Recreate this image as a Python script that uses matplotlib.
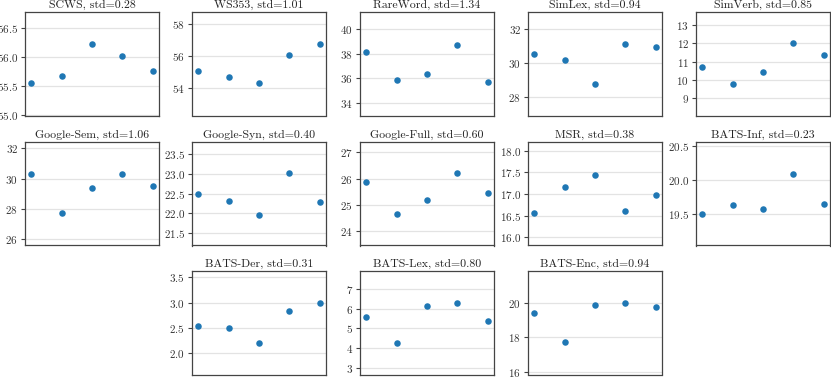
import numpy as np
import matplotlib
matplotlib.use("Agg")
import matplotlib.pyplot as plt
from matplotlib.ticker import MultipleLocator

plt.rcParams['font.family'] = ['cmr10', 'DejaVu Serif']
plt.rcParams['mathtext.fontset'] = 'cm'
plt.rcParams['axes.formatter.use_mathtext'] = True

names = ["SCWS", "WS353", "RareWord", "SimLex", "SimVerb",
         "Google-Sem", "Google-Syn", "Google-Full", "MSR", "BATS-Inf",
         "BATS-Der", "BATS-Lex", "BATS-Enc"]
stds = ["0.28", "1.01", "1.34", "0.94", "0.85",
        "1.06", "0.40", "0.60", "0.38", "0.23",
        "0.31", "0.80", "0.94"]
values = [
    [55.55, 55.67, 56.23, 56.03, 55.76],
    [55.10, 54.71, 54.31, 56.08, 56.75],
    [38.11, 35.89, 36.38, 38.67, 35.71],
    [30.53, 30.18, 28.78, 31.15, 30.94],
    [10.69, 9.78, 10.43, 12.00, 11.36],
    [30.29, 27.71, 29.37, 30.31, 29.51],
    [22.50, 22.31, 21.96, 23.03, 22.28],
    [25.89, 24.66, 25.21, 26.20, 25.45],
    [16.56, 17.15, 17.45, 16.60, 16.97],
    [19.50, 19.63, 19.57, 20.09, 19.65],
    [2.53, 2.49, 2.20, 2.84, 3.00],
    [5.57, 4.27, 6.12, 6.30, 5.37],
    [19.42, 17.71, 19.87, 19.98, 19.75],
]
tick_steps = [0.5, 2, 2, 2, 1, 2, 0.5, 1, 0.5, 0.5, 0.5, 1, 2]

W, H = 831, 378
fig = plt.figure(figsize=(W / 100, H / 100), dpi=100)

col_left = [25, 192, 360, 528, 696]
row_top = [12, 142, 271]
ax_w, ax_h = 134, 103.5
slots = [(0, c) for c in range(5)] + [(1, c) for c in range(5)] + [(2, c) for c in (1, 2, 3)]

for i, name in enumerate(names):
    r, c = slots[i]
    left = col_left[c] / W
    bottom = 1 - (row_top[r] + ax_h) / H
    ax = fig.add_axes([left, bottom, ax_w / W, ax_h / H])
    y = np.array(values[i])
    x = np.arange(len(y))
    ax.scatter(x, y, s=22, color='#1f77b4', linewidths=0, zorder=3)
    sd = y.std(ddof=1)
    ax.set_ylim(y.min() - 2 * sd, y.max() + 2 * sd)
    ax.set_xlim(-0.2, 4.2)
    ax.yaxis.set_major_locator(MultipleLocator(tick_steps[i]))
    ax.set_xticks([])
    ax.grid(axis='y', color='#e3e3e3', linewidth=0.9, zorder=0)
    ax.set_axisbelow(True)
    for sp in ax.spines.values():
        sp.set_color('#444444')
        sp.set_linewidth(0.9)
    ax.tick_params(axis='y', labelsize=8, length=3, width=0.8,
                   color='#444444', labelcolor='#333333', pad=2)
    ax.set_title(f"{name}, std={stds[i]}", fontsize=8.5, pad=3, color='#222222')

fig.savefig("out.png", dpi=100)
